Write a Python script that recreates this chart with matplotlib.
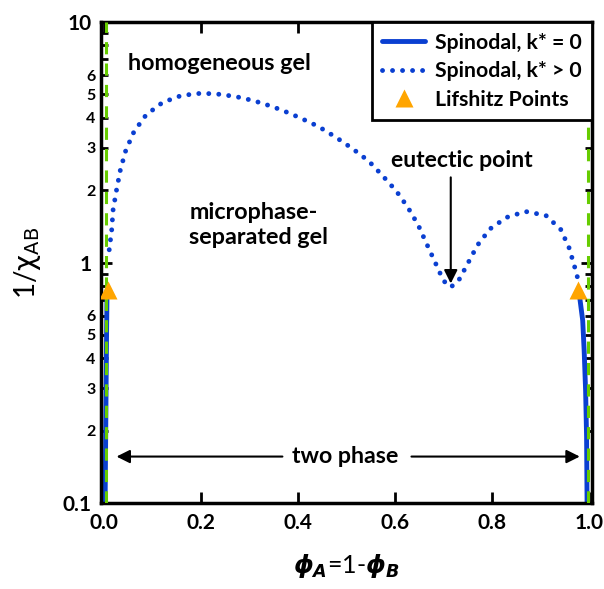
import numpy as np
import matplotlib
matplotlib.use('Agg')
import matplotlib.pyplot as plt
from matplotlib.ticker import LogLocator, FuncFormatter

plt.rcParams['font.family'] = ['Lato', 'DejaVu Sans']
plt.rcParams['font.weight'] = 'bold'
plt.rcParams['mathtext.fontset'] = 'custom'
plt.rcParams['mathtext.it'] = 'DejaVu Sans:italic:bold'
plt.rcParams['mathtext.rm'] = 'DejaVu Sans:weight=normal'
plt.rcParams['mathtext.bf'] = 'DejaVu Sans:bold'

# spinodal k* = 0 (near the two edges)
spin0_left_x = [0.0065, 0.0055, 0.0045, 0.0035, 0.0025]
spin0_left_y = [0.765, 0.5, 0.3, 0.17, 0.1]
spin0_right_x = [0.979, 0.987, 0.990, 0.993, 0.995, 0.996]
spin0_right_y = [0.765, 0.574, 0.43, 0.293, 0.188, 0.1]

# spinodal k* > 0
spin_x = [0.011, 0.016, 0.019, 0.026, 0.034, 0.045, 0.062, 0.087, 0.121, 0.16,
          0.202, 0.243, 0.285, 0.326, 0.366, 0.404, 0.442, 0.478, 0.512, 0.546,
          0.575, 0.603, 0.627, 0.648, 0.665, 0.683, 0.70, 0.715, 0.731, 0.75,
          0.770, 0.796, 0.830, 0.869, 0.911, 0.942, 0.959, 0.971, 0.976]
spin_y = [1.13, 1.36, 1.66, 2.0, 2.43, 2.92, 3.50, 4.11, 4.63, 4.95,
          5.06, 5.0, 4.84, 4.6, 4.31, 4.0, 3.68, 3.32, 2.98, 2.64,
          2.29, 1.98, 1.69, 1.43, 1.20, 1.0, 0.84, 0.79, 0.84, 0.99,
          1.18, 1.38, 1.54, 1.63, 1.57, 1.37, 1.15, 0.95, 0.87]

# Lifshitz points
lif_x = [0.009, 0.978]
lif_y = [0.765, 0.77]

# pure-component boundaries
bound_x = [0.004, 0.997]

blue = '#0a3fd1'
green = '#66cc00'
orange = '#ffa500'

fig = plt.figure(figsize=(6.04, 5.89), dpi=100)
ax = fig.add_axes([0.1672, 0.146, 0.8128, 0.8166])

ax.plot(spin0_left_x, spin0_left_y, color=blue, lw=3.5, zorder=2,
        label='Spinodal, k* = 0', solid_capstyle='round')
ax.plot(spin0_right_x, spin0_right_y, color=blue, lw=3.5, zorder=2,
        solid_capstyle='round')
for bx in bound_x:
    ax.plot([bx, bx], [0.1, 10], color=green, lw=2.2, dashes=(4, 3), zorder=3)
ax.plot(spin_x, spin_y, color=blue, lw=3.5, dashes=(0.01, 2.05),
        dash_capstyle='round', zorder=2, label='Spinodal, k* > 0')
ax.plot(lif_x, lif_y, ls='none', marker='^', ms=13, color=orange,
        mec='none', zorder=4, label='Lifshitz Points')

ax.set_yscale('log')
ax.set_xlim(-0.006, 1.006)
ax.set_ylim(0.1, 10)
ax.set_xticks([0.0, 0.2, 0.4, 0.6, 0.8, 1.0])
ax.set_xticklabels(['0.0', '0.2', '0.4', '0.6', '0.8', '1.0'])

ax.yaxis.set_major_locator(LogLocator(base=10))
ax.yaxis.set_minor_locator(LogLocator(base=10, subs=range(2, 10)))
ax.yaxis.set_major_formatter(FuncFormatter(lambda v, p: '%g' % v))


def minor_fmt(v, p):
    m = v / 10 ** np.floor(np.log10(v) + 1e-9)
    m = int(round(m))
    return str(m) if 2 <= m <= 6 else ''


ax.yaxis.set_minor_formatter(FuncFormatter(minor_fmt))

ax.tick_params(which='both', direction='in', top=True, right=True, width=2)
ax.tick_params(which='major', length=8, labelsize=15, pad=7)
ax.tick_params(which='minor', length=5)
ax.tick_params(axis='y', which='minor', labelsize=11.5, pad=4)
for s in ax.spines.values():
    s.set_linewidth(2.5)

ax.set_xlabel(r'$\phi_A$=1-$\phi_B$', fontsize=18, labelpad=14)
ax.set_ylabel(r'1/$\mathrm{\chi_{AB}}$', fontsize=20, labelpad=14,
              fontweight='normal')

ax.text(0.05, 6.7, 'homogeneous gel', fontsize=16.8, va='center', ha='left')
ax.text(0.176, 1.43, 'microphase-\nseparated gel', fontsize=16.8, va='center',
        ha='left', linespacing=1.25)
ax.text(0.737, 2.66, 'eutectic point', fontsize=16.6, va='center', ha='center')
ax.annotate('', xy=(0.715, 0.818), xytext=(0.715, 2.26),
            arrowprops=dict(arrowstyle='-|>', color='black', lw=1.5,
                            mutation_scale=20, shrinkA=0, shrinkB=0))

ax.text(0.497, 0.156, 'two phase', fontsize=16.7, va='center', ha='center')
ax.annotate('', xy=(0.026, 0.156), xytext=(0.368, 0.156),
            arrowprops=dict(arrowstyle='-|>', color='black', lw=1.5,
                            mutation_scale=20, shrinkA=0, shrinkB=0))
ax.annotate('', xy=(0.981, 0.156), xytext=(0.634, 0.156),
            arrowprops=dict(arrowstyle='-|>', color='black', lw=1.5,
                            mutation_scale=20, shrinkA=0, shrinkB=0))

leg = ax.legend(loc='upper right', fontsize=15.3, borderaxespad=0,
                fancybox=False, framealpha=1, edgecolor='black',
                handlelength=2.0, handletextpad=0.45, borderpad=0.5,
                labelspacing=0.4)
leg.get_frame().set_linewidth(2)

fig.savefig('out.png', dpi=100)
